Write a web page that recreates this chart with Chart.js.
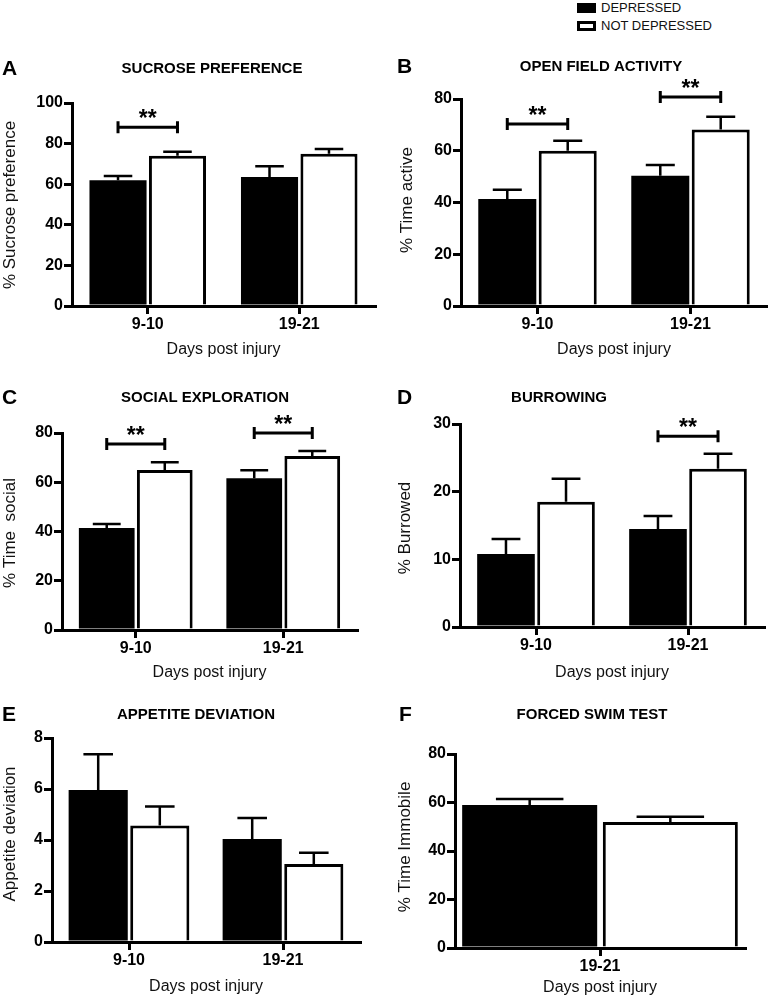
<!DOCTYPE html>
<html>
<head>
<meta charset="utf-8">
<script src="https://cdn.jsdelivr.net/npm/chart.js@4/dist/chart.umd.min.js"></script>
<style>
  body { margin: 0; background: #fff; width: 768px; height: 996px; position: relative; overflow: hidden;
         font-family: "Liberation Sans", Arial, sans-serif; }
  canvas { position: absolute; }
  .legend { position: absolute; left: 577px; top: -1px; font-size: 13px; line-height: 18px; color: #111; }
  .legend .box { display: inline-block; width: 19px; height: 10px; box-sizing: border-box;
                 vertical-align: -1px; margin-right: 5px; }
</style>
</head>
<body>
<div class="legend">
  <div><span class="box" style="background:#000"></span>DEPRESSED</div>
  <div><span class="box" style="background:#fff;border:3px solid #000"></span>NOT DEPRESSED</div>
</div>
<script>
// Shared
const categories = ['9-10', '19-21'];
const seriesNames = ['DEPRESSED', 'NOT DEPRESSED'];

// A - sucrose preference
const sucroseDep = [62, 63.5];
const sucroseDepErr = [2, 5.4];
const sucroseNot = [74, 75];
const sucroseNotErr = [2, 2.4];
const sucroseSig = [88, null];
const sucroseTicks = [0, 20, 40, 60, 80, 100];

// B - open field activity
const openDep = [41.4, 50.3];
const openDepErr = [3.5, 4.2];
const openNot = [60, 68.2];
const openNotErr = [3.9, 4.9];
const openSig = [70.3, 80.8];
const openTicks = [0, 20, 40, 60, 80];

// C - social exploration
const socialDep = [41.4, 61.6];
const socialDepErr = [1.6, 3.3];
const socialNot = [65, 70.7];
const socialNotErr = [3.1, 2];
const socialSig = [75.5, 80];
const socialTicks = [0, 20, 40, 60, 80];

// D - burrowing
const burrowDep = [10.8, 14.5];
const burrowDepErr = [2.2, 1.9];
const burrowNot = [18.5, 23.4];
const burrowNotErr = [3.4, 2.2];
const burrowSig = [null, 28.2];
const burrowTicks = [0, 10, 20, 30];

// E - appetite deviation
const appetiteDep = [5.96, 4.04];
const appetiteDepErr = [1.4, 0.82];
const appetiteNot = [4.57, 3.06];
const appetiteNotErr = [0.74, 0.44];
const appetiteSig = [null, null];
const appetiteTicks = [0, 2, 4, 6, 8];

// F - forced swim test
const swimCategories = ['19-21'];
const swimDep = [59];
const swimDepErr = [2.4];
const swimNot = [52];
const swimNotErr = [2.1];
const swimSig = [null];
const swimTicks = [0, 20, 40, 60, 80];

const FONT = '"Liberation Sans", Arial, sans-serif';
const Y_W = 40, X_H = 30;

function makePanel(p) {
    const cv = document.createElement('canvas');
    cv.width = p.box[2];
    cv.height = p.box[3];
    cv.style.left = p.box[0] + 'px';
    cv.style.top = p.box[1] + 'px';
    document.body.appendChild(cv);

    const ox = p.box[0], oy = p.box[1];
    const padding = {
        left: p.area[0] - ox - Y_W,
        top: p.area[1] - oy,
        right: ox + p.box[2] - p.area[2],
        bottom: oy + p.box[3] - p.area[3] - X_H
    };

    // error bars, significance brackets and panel texts
    const decor = {
        id: 'decor',
        afterDatasetsDraw(chart) {
            const ctx = chart.ctx;
            const ys = chart.scales.y;
            ctx.save();
            ctx.strokeStyle = '#000';
            ctx.fillStyle = '#000';
            chart.data.datasets.forEach((ds, i) => {
                chart.getDatasetMeta(i).data.forEach((bar, j) => {
                    const top = ys.getPixelForValue(ds.data[j] + ds.errors[j]);
                    const half = bar.width / 4;
                    ctx.lineWidth = 2.5;
                    ctx.beginPath();
                    ctx.moveTo(bar.x, bar.y);
                    ctx.lineTo(bar.x, top);
                    ctx.moveTo(bar.x - half, top);
                    ctx.lineTo(bar.x + half, top);
                    ctx.stroke();
                });
            });
            p.sig.forEach((lvl, j) => {
                if (lvl == null) return;
                const x1 = chart.getDatasetMeta(0).data[j].x;
                const x2 = chart.getDatasetMeta(1).data[j].x;
                const y = ys.getPixelForValue(lvl);
                ctx.lineWidth = 3;
                ctx.beginPath();
                ctx.moveTo(x1, y); ctx.lineTo(x2, y);
                ctx.moveTo(x1, y - 6); ctx.lineTo(x1, y + 6);
                ctx.moveTo(x2, y - 6); ctx.lineTo(x2, y + 6);
                ctx.stroke();
                ctx.font = 'bold 23px ' + FONT;
                ctx.textAlign = 'center';
                ctx.textBaseline = 'alphabetic';
                ctx.fillText('**', (x1 + x2) / 2, y - 1);
            });
            ctx.restore();
        },
        afterDraw(chart) {
            const ctx = chart.ctx;
            const a = chart.chartArea;
            ctx.save();
            ctx.fillStyle = '#000';
            ctx.textBaseline = 'middle';

            ctx.font = 'bold 21px ' + FONT;
            ctx.textAlign = 'left';
            ctx.fillText(p.letter, p.letterAt[0] - ox, p.letterAt[1] - oy);

            ctx.font = 'bold 15px ' + FONT;
            ctx.textAlign = 'center';
            ctx.fillText(p.title, p.titleAt[0] - ox, p.titleAt[1] - oy);

            ctx.font = '16px ' + FONT;
            ctx.fillStyle = '#111';
            ctx.fillText('Days post injury', (a.left + a.right) / 2, p.xTitleY - oy);

            ctx.font = '17px ' + FONT;
            ctx.translate(p.yTitleAt[0] - ox, p.yTitleAt[1] - oy);
            ctx.rotate(-Math.PI / 2);
            ctx.fillText(p.yTitle, 0, 0);
            ctx.restore();
        }
    };

    const tickFont = { family: FONT, size: 16, weight: 'bold' };
    new Chart(cv.getContext('2d'), {
        type: 'bar',
        data: {
            labels: p.labels,
            datasets: [{
                label: seriesNames[0],
                data: p.dep,
                errors: p.depErr,
                backgroundColor: '#000',
                borderWidth: 0,
                categoryPercentage: p.catPct,
                barPercentage: 0.96
            }, {
                label: seriesNames[1],
                data: p.not,
                errors: p.notErr,
                backgroundColor: '#fff',
                borderColor: '#000',
                borderWidth: 3,
                categoryPercentage: p.catPct,
                barPercentage: 0.96
            }]
        },
        options: {
            responsive: false,
            animation: false,
            layout: { padding: padding },
            plugins: { legend: { display: false }, tooltip: { enabled: false } },
            scales: {
                x: {
                    grid: { offset: false, drawOnChartArea: false, tickLength: 8, lineWidth: 3, color: '#000' },
                    border: { display: true, width: 3, color: '#000' },
                    ticks: { font: tickFont, color: '#000', padding: 1, maxRotation: 0 },
                    afterFit(s) { s.height = X_H; }
                },
                y: {
                    min: p.ticks[0],
                    max: p.ticks[p.ticks.length - 1],
                    grid: { drawOnChartArea: false, tickLength: 8, lineWidth: 3, color: '#000' },
                    border: { display: true, width: 3, color: '#000' },
                    ticks: { stepSize: p.ticks[1] - p.ticks[0], font: tickFont, color: '#000', padding: 1 },
                    afterFit(s) { s.width = Y_W; }
                }
            }
        },
        plugins: [decor]
    });
}

makePanel({
    letter: 'A', title: 'SUCROSE PREFERENCE', yTitle: '% Sucrose preference',
    labels: categories, dep: sucroseDep, depErr: sucroseDepErr, not: sucroseNot, notErr: sucroseNotErr,
    sig: sucroseSig, ticks: sucroseTicks, catPct: 0.785,
    box: [0, 40, 384, 320], area: [72, 103, 375, 306],
    letterAt: [2, 69], titleAt: [212, 69], yTitleAt: [10, 205], xTitleY: 350
});
makePanel({
    letter: 'B', title: 'OPEN FIELD ACTIVITY', yTitle: '% Time active',
    labels: categories, dep: openDep, depErr: openDepErr, not: openNot, notErr: openNotErr,
    sig: openSig, ticks: openTicks, catPct: 0.79,
    box: [384, 40, 384, 320], area: [461, 99, 767, 306],
    letterAt: [397, 67], titleAt: [601, 67], yTitleAt: [407, 200], xTitleY: 350
});
makePanel({
    letter: 'C', title: 'SOCIAL EXPLORATION', yTitle: '% Time  social',
    labels: categories, dep: socialDep, depErr: socialDepErr, not: socialNot, notErr: socialNotErr,
    sig: socialSig, ticks: socialTicks, catPct: 0.787,
    box: [0, 360, 384, 320], area: [62, 433, 357, 630],
    letterAt: [2, 398], titleAt: [205, 398], yTitleAt: [10, 533], xTitleY: 673
});
makePanel({
    letter: 'D', title: 'BURROWING', yTitle: '% Burrowed',
    labels: categories, dep: burrowDep, depErr: burrowDepErr, not: burrowNot, notErr: burrowNotErr,
    sig: burrowSig, ticks: burrowTicks, catPct: 0.79,
    box: [384, 360, 384, 320], area: [460, 424, 764, 627],
    letterAt: [397, 398], titleAt: [559, 398], yTitleAt: [405, 528], xTitleY: 673
});
makePanel({
    letter: 'E', title: 'APPETITE DEVIATION', yTitle: 'Appetite deviation',
    labels: categories, dep: appetiteDep, depErr: appetiteDepErr, not: appetiteNot, notErr: appetiteNotErr,
    sig: appetiteSig, ticks: appetiteTicks, catPct: 0.8,
    box: [0, 680, 384, 316], area: [52, 738, 360, 942],
    letterAt: [2, 715], titleAt: [196, 715], yTitleAt: [10, 834], xTitleY: 987
});
makePanel({
    letter: 'F', title: 'FORCED SWIM TEST', yTitle: '% Time Immobile',
    labels: swimCategories, dep: swimDep, depErr: swimDepErr, not: swimNot, notErr: swimNotErr,
    sig: swimSig, ticks: swimTicks, catPct: 0.97,
    box: [384, 680, 384, 316], area: [455, 754, 745, 948],
    letterAt: [399, 715], titleAt: [592, 715], yTitleAt: [405, 847], xTitleY: 988
});
</script>
</body>
</html>
